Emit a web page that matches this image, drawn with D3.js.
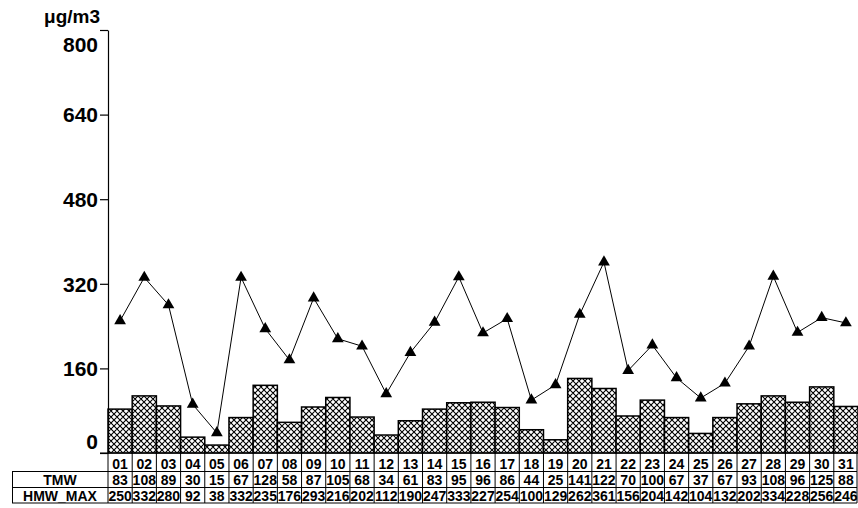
<!DOCTYPE html>
<html>
<head>
<meta charset="utf-8">
<script src="https://cdn.jsdelivr.net/npm/d3@7"></script>
<style>
  body { margin: 0; background: #fff; }
  svg { display: block; font-family: Arial, "Liberation Sans", sans-serif; }
</style>
</head>
<body>
<svg id="chart" width="858" height="508"></svg>
<script>
const days = ["01","02","03","04","05","06","07","08","09","10","11","12","13","14","15","16","17","18","19","20","21","22","23","24","25","26","27","28","29","30","31"];
const tmw = [83,108,89,30,15,67,128,58,87,105,68,34,61,83,95,96,86,44,25,141,122,70,100,67,37,67,93,108,96,125,88];
const hmwMax = [250,332,280,92,38,332,235,176,293,216,202,112,190,247,333,227,254,100,129,262,361,156,204,142,104,132,202,334,228,256,246];
const yTicks = [0,160,320,480,640,800];
const rowLabels = ["TMW","HMW_MAX"];
const unitLabel = "μg/m3";

(function(){
const svg = d3.select("#chart");
const pLeft = 108, pRight = 858, pTop = 30, base = 453;

const x = d3.scaleBand().domain(days).range([pLeft, pRight]).padding(0);
const y = d3.scaleLinear().domain([0, 800]).range([base, pTop]);

// hatch pattern
const defs = svg.append("defs");
const pat = defs.append("pattern").attr("id","hatch").attr("patternUnits","userSpaceOnUse")
  .attr("width",6).attr("height",6);
pat.append("rect").attr("width",6).attr("height",6).attr("fill","#fff");
pat.append("path").attr("d","M0,0 L6,6 M6,0 L0,6 M-3,3 L3,9 M3,-3 L9,3 M3,-3 L-3,3 M9,3 L3,9")
  .attr("stroke","#000").attr("stroke-width",1.1).attr("fill","none");

// bars
svg.append("g").selectAll("rect").data(days).join("rect")
  .attr("x", d => x(d))
  .attr("y", (d,i) => y(tmw[i]))
  .attr("width", x.bandwidth())
  .attr("height", (d,i) => base - y(tmw[i]))
  .attr("fill","url(#hatch)")
  .attr("stroke","#000").attr("stroke-width",1.5);

// y axis
const yAxis = d3.axisLeft(y).tickValues(yTicks).tickSize(8).tickSizeOuter(0);
const gy = svg.append("g").attr("transform",`translate(${pLeft},0)`).call(yAxis);
gy.select(".domain").attr("stroke","#000").attr("stroke-width",1.2);
gy.selectAll(".tick line").attr("stroke","#000").attr("stroke-width",1.2);
gy.selectAll(".tick text").attr("font-size",21).attr("font-weight","bold").attr("fill","#000")
  .attr("font-family","Arial, 'Liberation Sans', sans-serif")
  .attr("x",-10)
  .attr("dy", d => d === 800 ? "1.0em" : d === 0 ? "-0.2em" : "0.35em");

// x axis baseline
svg.append("line").attr("x1",100).attr("x2",pRight).attr("y1",base).attr("y2",base)
  .attr("stroke","#000").attr("stroke-width",1.2);

// unit label
svg.append("text").attr("x",100).attr("y",23).attr("text-anchor","end")
  .attr("font-size",19).attr("font-weight","bold").text(unitLabel);

// line + markers
const line = d3.line().x((d,i) => x(days[i]) + x.bandwidth()/2).y(d => y(d));
svg.append("path").datum(hmwMax).attr("d", line).attr("fill","none").attr("stroke","#000").attr("stroke-width",1);
svg.append("g").selectAll("path").data(hmwMax).join("path")
  .attr("d", d3.symbol(d3.symbolTriangle, 60))
  .attr("transform",(d,i) => `translate(${x(days[i]) + x.bandwidth()/2},${y(d)})`)
  .attr("fill","#000");

// table
const r0 = base, r1 = 471.5, r2 = 487.5, r3 = 503;
const tg = svg.append("g");
[r1, r2, r3].forEach(r => {
  tg.append("line").attr("x1",12).attr("x2",pRight-1).attr("y1",r).attr("y2",r).attr("stroke","#000");
});
tg.append("line").attr("x1",12.5).attr("x2",12.5).attr("y1",r1).attr("y2",r3).attr("stroke","#000");
tg.append("line").attr("x1",pLeft).attr("x2",pLeft).attr("y1",r0).attr("y2",r3).attr("stroke","#000");
days.forEach(d => {
  const xe = Math.min(x(d) + x.bandwidth(), pRight - 1);
  tg.append("line").attr("x1",xe).attr("x2",xe).attr("y1",r0).attr("y2",r3).attr("stroke","#000");
});
const txt = (xx, yy, t, fs) => tg.append("text").attr("x",xx).attr("y",yy).attr("text-anchor","middle")
  .attr("dominant-baseline","central").attr("font-size",fs).attr("font-weight","bold").text(t);
days.forEach((d,i) => {
  const cx = x(d) + x.bandwidth()/2;
  txt(cx, (r0+r1)/2 + 1.5, d, 14);
  txt(cx, (r1+r2)/2 + 0.5, tmw[i], 14);
  txt(cx, (r2+r3)/2 + 0.5, hmwMax[i], 14);
});
txt(60, (r1+r2)/2 + 0.5, rowLabels[0], 14);
txt(60, (r2+r3)/2 + 0.5, rowLabels[1], 14);
})();
</script>
</body>
</html>
